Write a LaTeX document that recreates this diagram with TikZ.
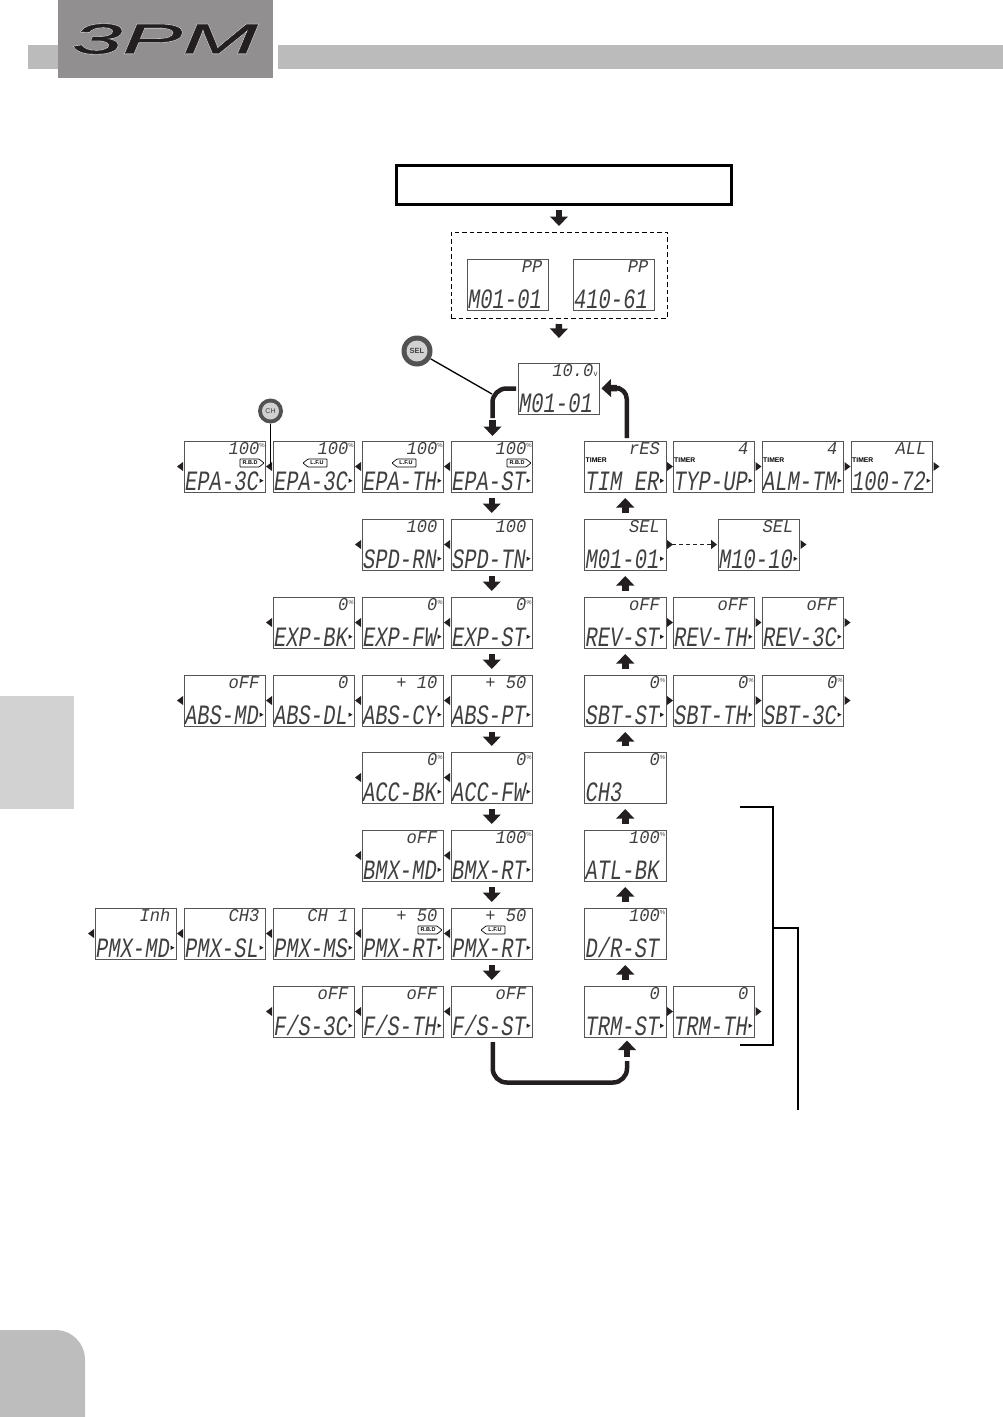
\documentclass[tikz,border=0pt]{standalone}
\usepackage{fontspec}
\usetikzlibrary{arrows.meta,calc}
\setmainfont{Liberation Sans}
\newfontfamily\lcdfont[FakeStretch=0.73]{Liberation Mono}
\newfontfamily\lcdtop[FakeStretch=0.95]{Liberation Mono}
\newfontfamily\logofont[FakeStretch=2.15,FakeBold=1.0]{Liberation Sans}
\newfontfamily\logohalo[FakeStretch=2.15,FakeBold=2.8]{Liberation Sans}
\definecolor{barG}{HTML}{BBBBBB}
\definecolor{logoG}{HTML}{918F90}
\definecolor{tabA}{HTML}{D2D2D2}
\definecolor{tabB}{HTML}{BDBDBD}
\definecolor{inkD}{HTML}{231F20}
\definecolor{lcdline}{HTML}{555555}
\definecolor{lcdink}{HTML}{404040}
\tikzset{
  lcdbox/.style={draw=lcdline,line width=.8pt,fill=white,outer sep=0pt,minimum width=81.5pt,minimum height=51pt,inner sep=0pt,anchor=north west},
  bigtxt/.style={anchor=base west,inner sep=0pt,text=lcdink,font=\lcdfont\itshape\fontsize{28}{28}\selectfont},
  toptxt/.style={anchor=base east,inner sep=0pt,text=lcdink,font=\lcdtop\itshape\fontsize{18}{18}\selectfont},
  pct/.style={anchor=north east,inner sep=0pt,text=lcdink,font=\fontsize{6}{6}\selectfont},
  timertxt/.style={anchor=west,inner sep=0pt,font=\bfseries\fontsize{6.8}{7}\selectfont},
  tagtxt/.style={inner sep=0pt,font=\bfseries\fontsize{5.5}{6}\selectfont},
  blockarrow/.style={-{Triangle[width=17.5pt,length=9.5pt]},line width=6.5pt,inkD,shorten >=6pt,shorten <=6pt},
  thickline/.style={line width=4.5pt,inkD},
  leader/.style={line width=1.3pt,black},
  tipfill/.style={fill=inkD},
}
\newcommand{\lcd}[5]{%
  \node[lcdbox] (#1) at (#2,#3) {};
  \node[bigtxt] (#1-b) at ([shift={(1,-1.7)}]#1.south west) {#5};
  \node[toptxt] (#1-t) at ([shift={(-6,13)}]#1.north east) {#4};
}
\newcommand{\lcdp}[5]{%
  \node[lcdbox] (#1) at (#2,#3) {};
  \node[bigtxt] (#1-b) at ([shift={(1,-1.7)}]#1.south west) {#5};
  \node[toptxt] (#1-t) at ([shift={(-6,13)}]#1.north east) {#4};
  \node[pct] (#1-p) at ([shift={(-.5,2)}]#1.north east) {\%};
}
\newcommand{\lt}[1]{\fill[tipfill] ([shift={(-1,-4.5)}]#1.west) -- ([shift={(-1,4.5)}]#1.west) -- ([shift={(-7,0)}]#1.west) -- cycle;}
\newcommand{\rt}[1]{\fill[tipfill] ([shift={(1,-4.5)}]#1.east) -- ([shift={(1,4.5)}]#1.east) -- ([shift={(7,0)}]#1.east) -- cycle;}
\newcommand{\mk}[1]{\fill[tipfill] ([shift={(-6,12)}]#1.east) -- ([shift={(-6,16.5)}]#1.east) -- ([shift={(-2,14.2)}]#1.east) -- cycle;}
\newcommand{\tagr}[2]{%
  \draw[line width=.7pt,fill=white,rounded corners=.6pt] ([shift={(56,18)}]#1.north west) -- ++(19,0) -- ++(5,4) -- ++(-5,4) -- ++(-19,0) -- cycle;
  \node[tagtxt] (#2) at ([shift={(66,22)}]#1.north west) {R.B.D};
}
\newcommand{\tagl}[2]{%
  \draw[line width=.7pt,fill=white,rounded corners=.6pt] ([shift={(54,18)}]#1.north west) -- ++(-19,0) -- ++(-5,4) -- ++(5,4) -- ++(19,0) -- cycle;
  \node[tagtxt] (#2) at ([shift={(44,22)}]#1.north west) {L.F.U};
}
\newcommand{\tmr}[2]{\node[timertxt] (#2) at ([shift={(1,19)}]#1.north west) {TIMER};}
\newcommand{\arrd}[2]{\draw[blockarrow,xshift=1pt] (#1.south) -- (#2.north);}
\newcommand{\arru}[2]{\draw[blockarrow,xshift=1.5pt] (#1.north) -- (#2.south);}
\newcommand{\pc}{\rlap{\raisebox{6pt}{\fontsize{6}{6}\rmfamily\selectfont\%}}}
\begin{document}
\begin{tikzpicture}[x=1pt,y=-1pt]
\useasboundingbox (0,0) rectangle (1003,1417);
% header
\fill[barG] (28,45) rectangle (58,69);
\fill[barG] (278,45) rectangle (1003,69);
\fill[logoG] (58,0) rectangle (273,78);
\node[inner sep=0pt,anchor=center,text=white,font=\logohalo\itshape\fontsize{42}{42}\selectfont] (logoh) at (165,39) {3PM};
\node[inner sep=0pt,anchor=center,text=inkD,font=\logofont\itshape\fontsize{42}{42}\selectfont] (logo) at (165,39) {3PM};
% side tabs
\fill[tabA] (0,696) rectangle (74,809);
\fill[tabB] (0,1417) -- (0,1330) -- (55,1330) .. controls (72,1330) and (85,1343) .. (85,1360) -- (85,1417) -- cycle;
% top
\node[draw=black,line width=3pt,outer sep=0pt,minimum width=335pt,minimum height=39pt,inner sep=0pt,anchor=north west] (start) at (396.5,165) {};
\node[draw=black,line width=.9pt,dash pattern=on 4.5pt off 3pt,outer sep=0pt,minimum width=216pt,minimum height=86pt,inner sep=0pt,anchor=north west] (dash) at (451,232) {};
\lcd{ppa}{467}{259}{PP\hspace{12pt}}{M01-01}
\lcd{ppb}{573}{259}{PP\hspace{12pt}}{410-61}
\lcd{main}{518}{363}{10.0}{M01-01}
\node[anchor=base west,inner sep=0pt,font=\fontsize{8}{8}\selectfont,text=lcdink] (mainv) at ([shift={(-6,13)}]main.north east) {v};
\draw[blockarrow] (dash.north |- start.south) -- (dash.north);
\draw[blockarrow,shorten >=25pt] (dash.south) -- (main.north |- 0,363);
% row 1
\lcdp{a4}{451}{441}{100}{EPA-ST}\tagr{a4}{a4r}\mk{a4}\lt{a4}
\lcdp{a3}{362}{441}{100}{EPA-TH}\tagl{a3}{a3l}\mk{a3}\lt{a3}
\lcdp{a2}{273}{441}{100}{EPA-3C}\tagl{a2}{a2l}\mk{a2}\lt{a2}
\lcdp{a1}{184}{441}{100}{EPA-3C}\tagr{a1}{a1r}\mk{a1}\lt{a1}
\lcd{r1a}{584.5}{441}{rES}{TIM ER}\tmr{r1a}{r1at}\mk{r1a}\rt{r1a}
\lcd{r1b}{673}{441}{4}{TYP-UP}\tmr{r1b}{r1bt}\mk{r1b}\rt{r1b}
\lcd{r1c}{762}{441}{4}{ALM-TM}\tmr{r1c}{r1ct}\mk{r1c}\rt{r1c}
\lcd{r1d}{851}{441}{ALL\hspace{4pt}}{100-72}\tmr{r1d}{r1dt}\mk{r1d}\rt{r1d}
% row 2
\lcd{b2}{451}{519}{100}{SPD-TN}\mk{b2}\lt{b2}
\lcd{b1}{362}{519}{100}{SPD-RN}\mk{b1}\lt{b1}
\lcd{r2a}{584.5}{519}{SEL\hspace{4pt}}{M01-01}\mk{r2a}
\lcd{r2b}{718}{519}{SEL\hspace{4pt}}{M10-10}\mk{r2b}\rt{r2b}
\draw[line width=1.8pt,dash pattern=on 4pt off 3pt,inkD,-{Triangle[width=9pt,length=6pt]},shorten >=1pt,shorten <=6pt] (r2a.east) -- (r2b.west);
\rt{r2a}
% row 3
\lcd{c3}{451}{597}{0\pc}{EXP-ST}\mk{c3}\lt{c3}
\lcd{c2}{362}{597}{0\pc}{EXP-FW}\mk{c2}\lt{c2}
\lcd{c1}{273}{597}{0\pc}{EXP-BK}\mk{c1}\lt{c1}
\lcd{r3a}{584.5}{597}{oFF}{REV-ST}\mk{r3a}\rt{r3a}
\lcd{r3b}{673}{597}{oFF}{REV-TH}\mk{r3b}\rt{r3b}
\lcd{r3c}{762}{597}{oFF}{REV-3C}\mk{r3c}\rt{r3c}
% row 4
\lcd{d4}{451}{675}{+ 50}{ABS-PT}\mk{d4}\lt{d4}
\lcd{d3}{362}{675}{+ 10}{ABS-CY}\mk{d3}\lt{d3}
\lcd{d2}{273}{675}{0}{ABS-DL}\mk{d2}\lt{d2}
\lcd{d1}{184}{675}{oFF}{ABS-MD}\mk{d1}\lt{d1}
\lcd{r4a}{584.5}{675}{0\pc}{SBT-ST}\mk{r4a}\rt{r4a}
\lcd{r4b}{673}{675}{0\pc}{SBT-TH}\mk{r4b}\rt{r4b}
\lcd{r4c}{762}{675}{0\pc}{SBT-3C}\mk{r4c}\rt{r4c}
% row 5
\lcd{e2}{451}{752}{0\pc}{ACC-FW}\mk{e2}\lt{e2}
\lcd{e1}{362}{752}{0\pc}{ACC-BK}\mk{e1}\lt{e1}
\lcd{r5}{584.5}{752}{0\pc}{CH3}
% row 6
\lcdp{f2}{451}{830}{100}{BMX-RT}\mk{f2}\lt{f2}
\lcd{f1}{362}{830}{oFF}{BMX-MD}\mk{f1}\lt{f1}
\lcdp{r6}{584.5}{830}{100}{ATL-BK}
% row 7
\lcd{g5}{451}{908}{+ 50}{PMX-RT}\tagl{g5}{g5l}\mk{g5}\lt{g5}
\lcd{g4}{362}{908}{+ 50}{PMX-RT}\tagr{g4}{g4r}\mk{g4}\lt{g4}
\lcd{g3}{273}{908}{CH 1}{PMX-MS}\mk{g3}\lt{g3}
\lcd{g2}{184}{908}{CH3}{PMX-SL}\mk{g2}\lt{g2}
\lcd{g1}{95}{908}{Inh}{PMX-MD}\mk{g1}\lt{g1}
\lcdp{r7}{584.5}{908}{100}{D/R-ST}
% row 8
\lcd{h3}{451}{986}{oFF}{F/S-ST}\mk{h3}\lt{h3}
\lcd{h2}{362}{986}{oFF}{F/S-TH}\mk{h2}\lt{h2}
\lcd{h1}{273}{986}{oFF}{F/S-3C}\mk{h1}\lt{h1}
\lcd{r8a}{584.5}{986}{0}{TRM-ST}\mk{r8a}\rt{r8a}
\lcd{r8b}{673}{986}{0}{TRM-TH}\mk{r8b}\rt{r8b}
% left column arrows
\arrd{a4}{b2}\arrd{b2}{c3}\arrd{c3}{d4}\arrd{d4}{e2}\arrd{e2}{f2}\arrd{f2}{g5}\arrd{g5}{h3}
% right column arrows
\arru{r8a}{r7}\arru{r7}{r6}\arru{r6}{r5}\arru{r5}{r4a}\arru{r4a}{r3a}\arru{r3a}{r2a}\arru{r2a}{r1a}
% curved thick connectors
\coordinate (c1) at (492.5,418);
\draw[thickline,rounded corners=14pt,shorten <=2pt] (main.west) -| (c1);
\draw[blockarrow,shorten <=2pt,shorten >=5pt] (c1) -- (a4.north -| c1);
\coordinate (c2) at (620,388);
\draw[thickline,rounded corners=11pt] ([shift={(1.5,-3)}]r1a.north) |- (c2);
\draw[blockarrow,shorten <=3pt,shorten >=2pt] (c2) -- (main.east);
\coordinate (c3) at (627,1061);
\draw[thickline,rounded corners=14pt] ([shift={(1,5)}]h3.south) |- (627,1082.5) -- (c3);
\draw[blockarrow,shorten <=4pt,shorten >=3.5pt] (c3) -- (c3 |- r8a.south);
% buttons
\node[circle,draw=none,fill=black!68,minimum size=31pt,inner sep=0pt] (sel) at (417,351) {};
\node[circle,fill=black!18,minimum size=21pt,inner sep=0pt,font=\bfseries\fontsize{7.5}{8}\selectfont,text=black!75] (seli) at (sel.center) {SEL};
\node[circle,draw=none,fill=black!68,minimum size=25pt,inner sep=0pt] (chb) at (270.5,411) {};
\node[circle,fill=black!18,minimum size=17pt,inner sep=0pt,font=\fontsize{7}{7}\selectfont,text=black!75] (chi) at (chb.center) {CH};
\coordinate (selend) at (492,394);
\draw[leader] (sel) -- (selend);
\coordinate (chend) at (270.5,467);
\draw[leader] (chb) -- (chend);
% bracket
\coordinate (bt) at (740,807);
\coordinate (bb) at (740,1045);
\draw[line width=2pt,black] (bt) -- (773,807) -- (773,1045) -- (bb);
\coordinate (bend) at (798,1110);
\draw[line width=1.6pt,black] (773,928) -| (bend);
\end{tikzpicture}
\end{document}
